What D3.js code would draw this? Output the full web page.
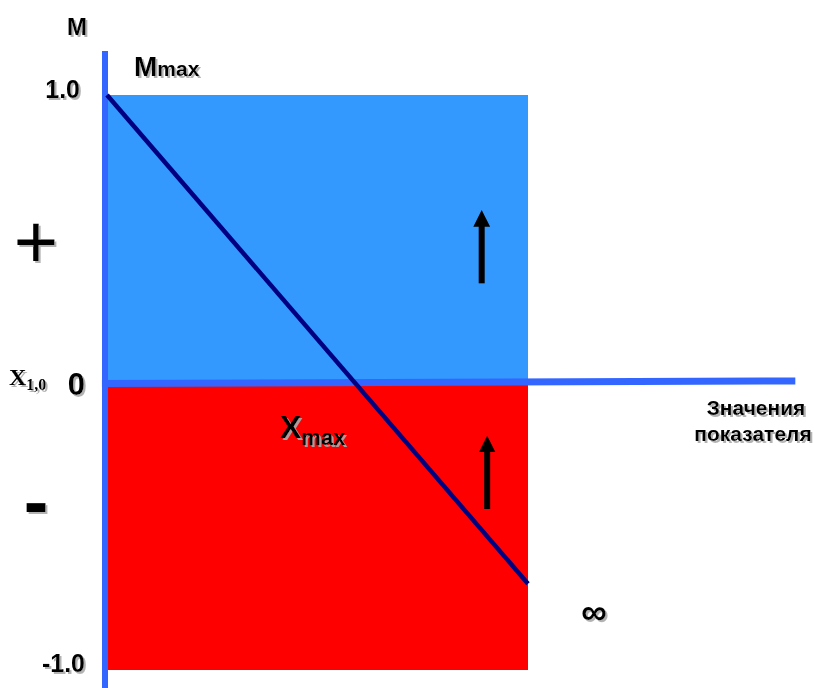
<!DOCTYPE html>
<html>
<head>
<meta charset="utf-8">
<script src="https://cdn.jsdelivr.net/npm/d3@7"></script>
<style>
  html, body { margin: 0; padding: 0; background: #fff; }
  svg { display: block; }
  .lbl { font-family: Arial, "Liberation Sans", sans-serif; font-weight: bold; fill: #000; }
  .serif { font-family: "Times New Roman", "Liberation Serif", serif; font-weight: bold; fill: #000; }
</style>
</head>
<body>
<div id="chart"></div>
<script>
// y tick labels on the M axis
const yTicks = [1.0, 0, -1.0]
const yTickLabels = ['1.0', '0', '-1.0']

// shaded zones: [value from, value to]
const zones = [
    { name: 'plus', from: 0, to: 1, color: '#3399ff' },
    { name: 'minus', from: -1, to: 0, color: '#ff0000' }
]

// the M line, from Mmax down past Xmax
const lineX = [0, 1]
const lineM = [1.0, -0.7]

// arrows pointing up inside each zone
const arrowX = [0.89, 0.903]
const arrowFrom = [0.345, -0.44]
const arrowTo = [0.595, -0.19]

const width = 814
const height = 688

const x = d3.scaleLinear().domain([0, 1]).range([107, 528])
const y = d3.scaleLinear().domain([-1, 1]).range([670, 95])

const svg = d3.select('#chart').append('svg')
    .attr('width', width)
    .attr('height', height)

const defs = svg.append('defs')
defs.append('filter').attr('id', 'shadow')
    .attr('x', '-20%').attr('y', '-20%').attr('width', '150%').attr('height', '150%')
    .append('feDropShadow')
        .attr('dx', 2).attr('dy', 2)
        .attr('stdDeviation', 0.6)
        .attr('flood-color', '#aaa')
        .attr('flood-opacity', 0.9)

defs.append('marker')
    .attr('id', 'head')
    .attr('viewBox', '0 0 10 10')
    .attr('refX', 2).attr('refY', 5)
    .attr('markerWidth', 2.8).attr('markerHeight', 2.8)
    .attr('orient', 'auto')
    .append('path')
        .attr('d', 'M0,0 L10,5 L0,10 Z')
        .attr('fill', '#000')

// zones
svg.selectAll('rect.zone')
    .data(zones)
    .enter()
    .append('rect')
        .attr('class', 'zone')
        .attr('x', x(0))
        .attr('y', d => y(d.to))
        .attr('width', x(1) - x(0))
        .attr('height', d => y(d.from) - y(d.to))
        .attr('fill', d => d.color)

// axes
const axisColor = '#3366ff'
svg.append('line')
    .attr('x1', x(-0.012)).attr('x2', x(1.635))
    .attr('y1', y(0) + 1).attr('y2', y(0) - 1.5)
    .attr('stroke', axisColor).attr('stroke-width', 7)

svg.append('line')
    .attr('x1', x(0) - 2).attr('x2', x(0) - 2)
    .attr('y1', y(1.153)).attr('y2', height)
    .attr('stroke', axisColor).attr('stroke-width', 6)

// M line
const lineData = lineX.map((d, i) => ({ x: d, m: lineM[i] }))
svg.append('path')
    .datum(lineData)
    .attr('d', d3.line().x(d => x(d.x)).y(d => y(d.m)))
    .attr('fill', 'none')
    .attr('stroke', '#000080')
    .attr('stroke-width', 4.5)

// arrows
svg.selectAll('line.arrow')
    .data(arrowX)
    .enter()
    .append('line')
        .attr('class', 'arrow')
        .attr('x1', d => x(d)).attr('x2', d => x(d))
        .attr('y1', (d, i) => y(arrowFrom[i]))
        .attr('y2', (d, i) => y(arrowTo[i]) + 12)
        .attr('stroke', '#000')
        .attr('stroke-width', 6)
        .attr('marker-end', 'url(#head)')

// tick labels
svg.selectAll('text.tick')
    .data(yTicks)
    .enter()
    .append('text')
        .attr('class', 'lbl tick')
        .attr('filter', 'url(#shadow)')
        .attr('x', (d, i) => i === 0 ? 80 : 85)
        .attr('y', d => y(d) + (d === 0 ? 12.5 : d > 0 ? 3 : 2))
        .attr('text-anchor', 'end')
        .attr('font-size', (d, i) => i === 1 ? 31 : 25)
        .text((d, i) => yTickLabels[i])

// axis title
svg.append('text').attr('class', 'lbl').attr('filter', 'url(#shadow)')
    .attr('x', 77).attr('y', 35).attr('text-anchor', 'middle')
    .attr('font-size', 24).text('M')

const mmax = svg.append('text').attr('class', 'lbl').attr('filter', 'url(#shadow)')
    .attr('x', 134).attr('y', 76)
mmax.append('tspan').attr('font-size', 28).text('M')
mmax.append('tspan').attr('font-size', 21).text('max')

// plus / minus signs
svg.append('text').attr('class', 'lbl').attr('filter', 'url(#shadow)')
    .style('font-weight', 'normal')
    .attr('x', 36).attr('y', y(0.49) + 26).attr('text-anchor', 'middle')
    .attr('font-size', 76).text('+')

svg.append('text').attr('class', 'lbl').attr('filter', 'url(#shadow)')
    .attr('x', 36).attr('y', y(-0.43) + 21).attr('text-anchor', 'middle')
    .attr('font-size', 74).text('-')

// X1,0
const x10 = svg.append('text').attr('class', 'serif').attr('filter', 'url(#shadow)')
    .attr('x', 9).attr('y', 385)
x10.append('tspan').attr('font-size', 24).text('X')
x10.append('tspan').attr('font-size', 16).attr('dy', 5).text('1,0')

// Xmax
const xmax = svg.append('text').attr('class', 'lbl').attr('filter', 'url(#shadow)')
    .attr('x', 280).attr('y', 438)
xmax.append('tspan').attr('font-size', 32).text('X')
xmax.append('tspan').attr('font-size', 22).attr('dy', 7).text('max')

// x axis title
const xt = svg.append('text').attr('class', 'lbl').attr('filter', 'url(#shadow)')
    .attr('text-anchor', 'middle').attr('font-size', 21)
xt.append('tspan').attr('x', 756).attr('y', 415).text('Значения')
xt.append('tspan').attr('x', 753).attr('y', 441).text('показателя')

// infinity
svg.append('text').attr('class', 'lbl').attr('filter', 'url(#shadow)')
    .attr('x', 594).attr('y', 624).attr('text-anchor', 'middle')
    .attr('font-size', 36).text('∞')
</script>
</body>
</html>
